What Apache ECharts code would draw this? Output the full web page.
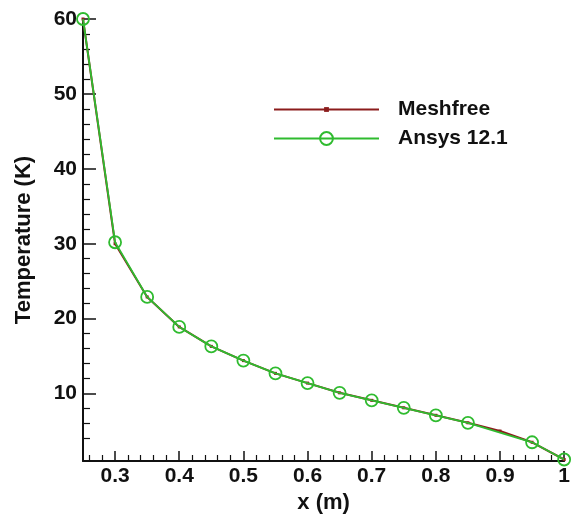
<!DOCTYPE html>
<html>
<head>
<meta charset="utf-8">
<script src="https://cdn.jsdelivr.net/npm/echarts@6/dist/echarts.min.js"></script>
<style>
  html, body { margin: 0; padding: 0; background: #fff; }
  #chart { width: 573px; height: 519px; }
</style>
</head>
<body>
<div id="chart"></div>
<script>
// Temperature along the rod: meshfree solution vs. Ansys 12.1
const meshfreeX = [0.25, 0.3, 0.35, 0.4, 0.45, 0.5, 0.55, 0.6, 0.65, 0.7, 0.75, 0.8, 0.85, 0.9, 0.95, 1.0];
const meshfreeT = [60.0, 30.0, 22.9, 18.9, 16.3, 14.4, 12.7, 11.4, 10.1, 9.1, 8.1, 7.1, 6.1, 5.0, 3.5, 1.2];
const ansysX = [0.25, 0.3, 0.35, 0.4, 0.45, 0.5, 0.55, 0.6, 0.65, 0.7, 0.75, 0.8, 0.85, 0.95, 1.0];
const ansysT = [60.0, 30.2, 22.9, 18.9, 16.3, 14.4, 12.7, 11.4, 10.1, 9.1, 8.1, 7.1, 6.1, 3.5, 1.2];

const xMajor = [0.3, 0.4, 0.5, 0.6, 0.7, 0.8, 0.9, 1.0];
const xMinor = [0.26, 0.28, 0.32, 0.34, 0.36, 0.38, 0.42, 0.44, 0.46, 0.48, 0.52, 0.54, 0.56, 0.58,
                0.62, 0.64, 0.66, 0.68, 0.72, 0.74, 0.76, 0.78, 0.82, 0.84, 0.86, 0.88, 0.92, 0.94, 0.96, 0.98];
const yMajor = [10, 20, 30, 40, 50, 60];
const yMinor = [4, 6, 8, 12, 14, 16, 18, 22, 24, 26, 28, 32, 34, 36, 38, 42, 44, 46, 48, 52, 54, 56, 58];

const X_MIN = 0.25, X_MAX = 1.0, Y_MIN = 1.0, Y_MAX = 60;

const FONT = 'Liberation Sans, Arial, sans-serif';
const GREEN = '#2fbb2f';
const BROWN = '#8b1c1c';

const pair = (xs, ys) => xs.map((x, i) => [x, ys[i]]);

const chart = echarts.init(document.getElementById('chart'), null, { renderer: 'canvas' });

const tickLabelStyle = { fontFamily: FONT, fontWeight: 'bold', fontSize: 21, color: '#111' };
const nameStyle = { fontFamily: FONT, fontWeight: 'bold', fontSize: 22, color: '#111' };
const legendText = { fontFamily: FONT, fontWeight: 'bold', fontSize: 21, color: '#111', padding: [0, 0, 0, 14] };

chart.setOption({
  animation: false,
  backgroundColor: '#fff',
  grid: { left: 83, right: 1, top: 19, bottom: 58, containLabel: false },
  legend: [
    {
      left: 268, top: 94, itemWidth: 105, itemHeight: 6,
      textStyle: legendText, data: ['Meshfree']
    },
    {
      left: 268, top: 123, itemWidth: 105, itemHeight: 16,
      textStyle: legendText, data: ['Ansys 12.1']
    }
  ],
  xAxis: [
    {
      type: 'value', min: X_MIN, max: X_MAX,
      name: 'x (m)', nameLocation: 'middle', nameGap: 29, nameTextStyle: nameStyle,
      axisLine: { lineStyle: { color: '#111', width: 2 } },
      axisTick: { inside: true, length: 10, customValues: xMajor, lineStyle: { color: '#111', width: 1.5 } },
      axisLabel: { customValues: xMajor, margin: 5, ...tickLabelStyle,
        formatter: v => (Math.abs(v - 1) < 1e-9 ? '1' : v.toFixed(1)) },
      splitLine: { show: false }
    },
    {
      type: 'value', min: X_MIN, max: X_MAX, position: 'bottom',
      axisLine: { show: false },
      axisTick: { inside: true, length: 6, customValues: xMinor, lineStyle: { color: '#111', width: 1.2 } },
      axisLabel: { show: false },
      splitLine: { show: false }
    }
  ],
  yAxis: [
    {
      type: 'value', min: Y_MIN, max: Y_MAX,
      name: 'Temperature (K)', nameLocation: 'middle', nameGap: 48, nameTextStyle: nameStyle,
      axisLine: { show: true, lineStyle: { color: '#111', width: 2 } },
      axisTick: { show: true, inside: true, length: 13, customValues: yMajor, lineStyle: { color: '#111', width: 1.5 } },
      axisLabel: { customValues: yMajor, margin: 6, ...tickLabelStyle },
      splitLine: { show: false }
    },
    {
      type: 'value', min: Y_MIN, max: Y_MAX, position: 'left',
      axisLine: { show: false },
      axisTick: { show: true, inside: true, length: 7, customValues: yMinor, lineStyle: { color: '#111', width: 1.2 } },
      axisLabel: { show: false },
      splitLine: { show: false }
    }
  ],
  series: [
    {
      name: 'Meshfree', type: 'line', xAxisIndex: 0, yAxisIndex: 0,
      data: pair(meshfreeX, meshfreeT),
      symbol: 'rect', symbolSize: 3, showSymbol: true,
      lineStyle: { color: BROWN, width: 2 },
      itemStyle: { color: BROWN },
      z: 2, clip: false
    },
    {
      name: 'Ansys 12.1', type: 'line', xAxisIndex: 0, yAxisIndex: 0,
      data: pair(ansysX, ansysT),
      symbol: 'circle', symbolSize: 12, showSymbol: true,
      lineStyle: { color: GREEN, width: 1.8 },
      itemStyle: { color: 'rgba(0,0,0,0)', borderColor: GREEN, borderWidth: 1.8 },
      z: 3, clip: false
    }
  ]
});
</script>
</body>
</html>
